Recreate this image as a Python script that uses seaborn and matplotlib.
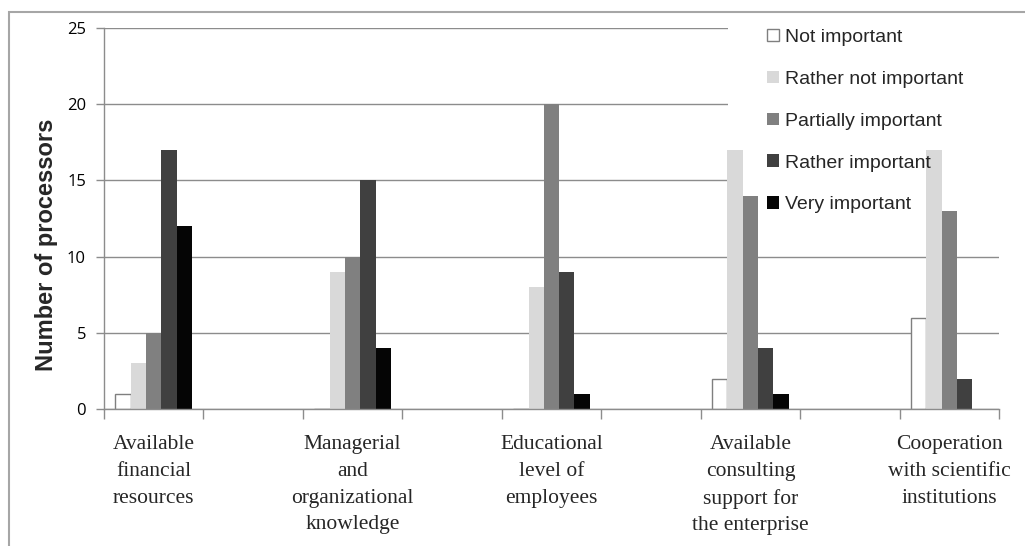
import matplotlib
matplotlib.use("Agg")
import matplotlib.pyplot as plt
from matplotlib.patches import Patch, Rectangle
import numpy as np
import pandas as pd
import seaborn as sns

# Factors rated by the processors
factors = [
    "Available\nfinancial\nresources",
    "Managerial\nand\norganizational\nknowledge",
    "Educational\nlevel of\nemployees",
    "Available\nconsulting\nsupport for\nthe enterprise",
    "Cooperation\nwith scientific\ninstitutions",
]
ratings = ["Not important", "Rather not important", "Partially important",
           "Rather important", "Very important"]

not_important = [1, 0, 0, 2, 6]
rather_not_important = [3, 9, 8, 17, 17]
partially_important = [5, 10, 20, 14, 13]
rather_important = [17, 15, 9, 4, 2]
very_important = [12, 4, 1, 1, 0]

colors = ["#FFFFFF", "#D9D9D9", "#808080", "#404040", "#050505"]
edge_gray = "#8C8C8C"

series = [not_important, rather_not_important, partially_important,
          rather_important, very_important]
rows = []
for rating, values in zip(ratings, series):
    for factor, v in zip(factors, values):
        rows.append({"factor": factor, "rating": rating, "count": v})
df = pd.DataFrame(rows)

# empty slots between the labelled groups
order = []
for i, f in enumerate(factors):
    order.append(f)
    if i < len(factors) - 1:
        order.append(" " * (i + 1))

sns.set_style("white")
plt.rcParams["font.family"] = ["Liberation Sans", "DejaVu Sans"]

fig = plt.figure(figsize=(10.25, 5.46), dpi=100)
ax = fig.add_axes([104 / 1025, 1 - 409 / 546, (999 - 104) / 1025, (409 - 28) / 546])

sns.barplot(data=df, x="factor", y="count", hue="rating", order=order,
            hue_order=ratings, palette=colors, saturation=1, width=0.77,
            gap=0, errorbar=None, legend=False, ax=ax)

for i, cont in enumerate(ax.containers):
    for p in cont.patches:
        if i == 0:
            p.set_edgecolor("#7F7F7F")
            p.set_linewidth(1.0)
        else:
            p.set_linewidth(0)

ax.set_xlim(-0.5, len(order) - 0.5)
ax.set_ylim(0, 25)
ax.set_yticks(np.arange(0, 26, 5))
ax.set_axisbelow(True)
ax.yaxis.grid(True, color=edge_gray, linewidth=1)
ax.xaxis.grid(False)

for side in ["top", "right"]:
    ax.spines[side].set_visible(False)
for side in ["left", "bottom"]:
    ax.spines[side].set_color(edge_gray)
    ax.spines[side].set_linewidth(1)

ax.tick_params(axis="y", direction="out", length=6, width=1, color=edge_gray,
               pad=7, labelsize=12, labelcolor="black", left=True)
for lab in ax.get_yticklabels():
    lab.set_fontfamily("Open Sans")

ax.set_xticks(np.arange(len(order)))
ax.set_xticklabels(order, fontfamily="Liberation Serif", fontsize=15.5,
                   linespacing=1.54, va="top")
ax.set_xticks(np.arange(-0.5, len(order), 1.0), minor=True)
ax.tick_params(axis="x", which="major", length=0, pad=19)
ax.tick_params(axis="x", which="minor", direction="out", length=7, width=1,
               color=edge_gray, bottom=True)
ax.set_xlabel("")

ax.set_ylabel("Number of processors", fontsize=17, fontweight="bold")
ax.yaxis.set_label_coords((58 - 104) / 895, (409 - 245) / 381)

handles = [Patch(facecolor=c, edgecolor=("#7F7F7F" if c == "#FFFFFF" else c),
                 linewidth=1.0 if c == "#FFFFFF" else 0)
           for c in colors]
leg = ax.legend(handles, ratings, loc="upper left",
                bbox_to_anchor=(728 / 1025, 1 + 10 / 546),
                bbox_transform=fig.transFigure, fontsize=14, frameon=True,
                facecolor="white", edgecolor="none", fancybox=False,
                framealpha=1, borderpad=2.0, labelspacing=1.27,
                handlelength=0.62, handleheight=0.62, handletextpad=0.3,
                borderaxespad=0)

# white legend backdrop sits under the bars but over the gridlines
fig.canvas.draw()
frame_bb = leg.get_frame().get_window_extent().transformed(ax.transAxes.inverted())
ax.add_patch(Rectangle((frame_bb.x0, frame_bb.y0), frame_bb.width, frame_bb.height,
                       transform=ax.transAxes, facecolor="white",
                       edgecolor="none", zorder=0.8, clip_on=False))
leg.get_frame().set_visible(False)
leg.set_zorder(5)

# chart area border
fig.add_artist(Rectangle((9 / 1025, -0.5), 2, 0.5 + 1 - 12 / 546,
                         transform=fig.transFigure, fill=False,
                         edgecolor="#A6A6A6", linewidth=1.5, zorder=10))

fig.savefig("out.png", dpi=100)
